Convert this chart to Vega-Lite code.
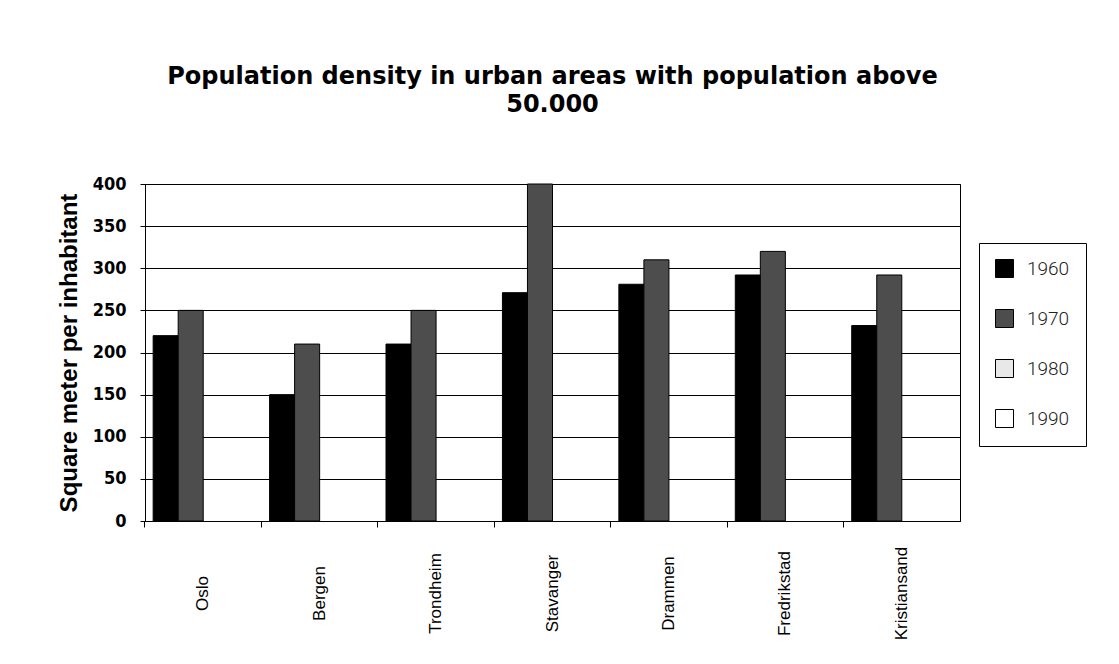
{
  "$schema": "https://vega.github.io/schema/vega-lite/v6.json",
  "width": 815,
  "height": 337,
  "padding": {"left": 57, "top": 65, "right": 0, "bottom": 0},
  "background": "white",
  "title": {
    "text": ["Population density in  urban areas with population above", "50.000"],
    "font": "DejaVu Sans",
    "fontSize": 24,
    "fontWeight": "bold",
    "color": "black",
    "anchor": "middle",
    "frame": "group",
    "lineHeight": 28,
    "offset": 58
  },
  "data": {
    "values": [
      {"city": "Oslo", "year": "1960", "value": 220},
      {"city": "Oslo", "year": "1970", "value": 250},
      {"city": "Bergen", "year": "1960", "value": 150},
      {"city": "Bergen", "year": "1970", "value": 210},
      {"city": "Trondheim", "year": "1960", "value": 210},
      {"city": "Trondheim", "year": "1970", "value": 250},
      {"city": "Stavanger", "year": "1960", "value": 271},
      {"city": "Stavanger", "year": "1970", "value": 400},
      {"city": "Drammen", "year": "1960", "value": 281},
      {"city": "Drammen", "year": "1970", "value": 310},
      {"city": "Fredrikstad", "year": "1960", "value": 292},
      {"city": "Fredrikstad", "year": "1970", "value": 320},
      {"city": "Kristiansand", "year": "1960", "value": 232},
      {"city": "Kristiansand", "year": "1970", "value": 292}
    ]
  },
  "mark": {"type": "bar", "stroke": "black", "strokeWidth": 1},
  "encoding": {
    "x": {
      "field": "city",
      "type": "nominal",
      "sort": ["Oslo", "Bergen", "Trondheim", "Stavanger", "Drammen", "Fredrikstad", "Kristiansand"],
      "scale": {"paddingInner": 0.14, "paddingOuter": 0.07},
      "title": null,
      "axis": {
        "labelAngle": -90,
        "labelAlign": "center",
        "labelBaseline": "middle",
        "labelPadding": 66,
        "labelFont": "Liberation Sans",
        "labelFontSize": 17,
        "labelColor": "black",
        "tickSize": 6,
        "tickColor": "black",
        "domainColor": "black",
        "bandPosition": -0.082,
        "grid": false
      }
    },
    "xOffset": {
      "field": "year",
      "type": "nominal",
      "scale": {"domain": ["1960", "1970", "1980", "1990"], "paddingInner": 0, "paddingOuter": 0}
    },
    "y": {
      "field": "value",
      "type": "quantitative",
      "scale": {"domain": [0, 400], "nice": false},
      "title": "Square meter per inhabitant",
      "axis": {
        "values": [0, 50, 100, 150, 200, 250, 300, 350, 400],
        "labelFont": "DejaVu Sans Condensed",
        "labelFontWeight": "bold",
        "labelFontSize": 18,
        "labelColor": "black",
        "labelPadding": 14,
        "tickSize": 5,
        "tickColor": "black",
        "domainColor": "black",
        "gridColor": "black",
        "gridOpacity": 1,
        "gridWidth": 1,
        "titleFont": "Liberation Sans",
        "titleFontWeight": "bold",
        "titleFontSize": 24,
        "titleColor": "black",
        "titlePadding": 11
      }
    },
    "color": {
      "field": "year",
      "type": "nominal",
      "scale": {"domain": ["1960", "1970", "1980", "1990"], "range": ["#000000", "#4d4d4d", "#e8e8e8", "#ffffff"]},
      "legend": {
        "title": null,
        "orient": "none",
        "legendX": 834,
        "legendY": 59,
        "padding": 16,
        "rowPadding": 27,
        "symbolType": "square",
        "symbolSize": 324,
        "symbolStrokeColor": "black",
        "symbolStrokeWidth": 1,
        "labelFont": "Roboto",
        "labelFontWeight": 300,
        "labelFontSize": 19,
        "labelColor": "#222222",
        "labelOffset": 13,
        "strokeColor": "black",
        "fillColor": "white",
        "cornerRadius": 0
      }
    }
  },
  "config": {"view": {"stroke": "black", "strokeWidth": 1}}
}
